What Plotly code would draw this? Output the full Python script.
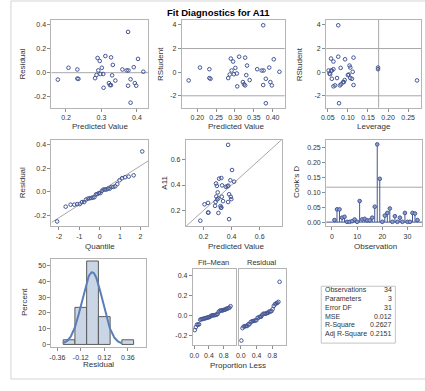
import numpy as np
import plotly.graph_objects as go
from statistics import NormalDist

# ---- regression output for A11 (one entry per observation, sorted by fit) ----
predicted = [0.177, 0.207, 0.232, 0.232, 0.235, 0.282, 0.286, 0.289, 0.291, 0.295,
             0.297, 0.301, 0.305, 0.306, 0.311, 0.321, 0.324, 0.327, 0.327, 0.330,
             0.332, 0.339, 0.359, 0.371, 0.375, 0.376, 0.375, 0.382, 0.382, 0.391,
             0.394, 0.398, 0.403, 0.418]
residual = [-0.058, 0.041, 0.027, -0.049, -0.052, -0.046, -0.019, 0.123, 0.019, 0.098,
            -0.011, 0.041, -0.011, -0.126, 0.139, -0.087, -0.104, -0.104, 0.128, -0.022,
            0.065, -0.066, 0.027, 0.019, 0.341, 0.019, -0.109, -0.055, -0.251, 0.046,
            -0.087, -0.109, 0.115, 0.008]
rstudent = [-0.70, 0.39, 0.25, -0.50, -0.56, -0.50, -0.20, 1.15, 0.14, 0.90,
            -0.17, 0.36, -0.11, -1.20, 1.31, -0.84, -1.03, -1.12, 1.23, -0.25,
            0.56, -0.67, 0.25, 0.14, 3.97, 0.14, -1.09, -0.56, -2.63, 0.39,
            -0.84, -1.12, 1.09, 0.03]
leverage = [0.272, 0.175, 0.175, 0.106, 0.110, 0.073, 0.102, 0.058, 0.060, 0.064,
            0.056, 0.082, 0.054, 0.064, 0.076, 0.088, 0.083, 0.068, 0.114, 0.100,
            0.104, 0.092, 0.064, 0.059, 0.076, 0.052, 0.114, 0.060, 0.078, 0.106,
            0.090, 0.080, 0.093, 0.112]

# Cook's D in observation order 1..34
cooks_d = [0.007, 0.043, 0.043, 0.015, 0.018, 0.001, 0.001, 0.003, 0.009, 0.001,
           0.071, 0.009, 0.011, 0.006, 0.006, 0.015, 0.052, 0.262, 0.146, 0.001,
           0.022, 0.031, 0.046, 0.001, 0.020, 0.001, 0.015, 0.001, 0.031, 0.001,
           0.001, 0.031, 0.029, 0.007]

stat_names = ["Observations", "Parameters", "Error DF", "MSE", "R-Square", "Adj R-Square"]
stat_values = ["34", "3", "31", "0.012", "0.2627", "0.2151"]
n_obs = 34
n_params = 3
mse = 0.012

# ---- derived quantities ----
pred = np.array(predicted)
res = np.array(residual)
observed = pred + res
nd = NormalDist()
sorted_res = np.sort(res)
quantiles = np.array([nd.inv_cdf((i + 1 - 0.375) / (n_obs + 0.25)) for i in range(n_obs)])
prop_less = (np.arange(n_obs) + 0.5) / n_obs
fit_mean = np.sort(pred - pred.mean())
obs_index = np.arange(1, n_obs + 1)

bin_edges = np.round(np.arange(-0.30, 0.43, 0.12), 2)
counts, _ = np.histogram(res, bins=bin_edges)
pct = counts / n_obs * 100
centers = (bin_edges[:-1] + bin_edges[1:]) / 2
keep = counts > 0
res_mean, res_sd = res.mean(), res.std(ddof=1)
curve_x = np.linspace(-0.30, 0.30, 121)
curve_y = 100 * 0.12 * np.exp(-0.5 * ((curve_x - res_mean) / res_sd) ** 2) / (res_sd * np.sqrt(2 * np.pi))

# ---- styling ----
W, H = 425, 391
FONT = "Liberation Sans, Arial, sans-serif"
MARK = "#445694"
FRAME = "#b4b4b4"
REF = "#a8a8a8"
TXT = "#333333"


def px(x):
    return x / W


def py(y):
    return 1 - y / H


def fmt(v, d):
    return f"{v:.{d}f}"


layout = dict(
    width=W, height=H, margin=dict(l=0, r=0, t=0, b=0),
    paper_bgcolor="white", plot_bgcolor="white", showlegend=False,
    font=dict(family=FONT, size=7, color=TXT), hovermode=False,
)

# panel id: (x px span, y px span, x range, y range, x ticks, x decimals, y ticks, y decimals, y labels)
panels = {
    1: ((47, 145), (20, 108), (0.159, 0.432), (-0.293, 0.441), [0.2, 0.3, 0.4], 1, [-0.2, 0.0, 0.2, 0.4], 1, True),
    2: ((179, 283), (20, 108), (0.159, 0.432), (-3.01, 4.42), [0.20, 0.25, 0.30, 0.35, 0.40], 2, [-2, 0, 2, 4], 0, True),
    3: ((325, 421), (20, 108), (0.046, 0.282), (-3.01, 4.42), [0.05, 0.10, 0.15, 0.20, 0.25], 2, [-2, 0, 2, 4], 0, True),
    4: ((47, 145), (140, 227), (-2.37, 2.39), (-0.293, 0.441), [-2, -1, 0, 1, 2], 0, [-0.2, 0.0, 0.2, 0.4], 1, True),
    5: ((183, 280), (140, 227), (0.074, 0.757), (0.074, 0.757), [0.2, 0.4, 0.6], 1, [0.2, 0.4, 0.6], 1, True),
    6: ((325, 422), (140, 227), (-2.3, 35.8), (-0.0145, 0.278), [0, 10, 20, 30], 0, [0, 0.05, 0.10, 0.15, 0.20, 0.25], 2, True),
    7: ((47, 143), (260, 348), (-0.42, 0.55), (-1.7, 54), [-0.36, -0.12, 0.12, 0.36], 2, [0, 10, 20, 30, 40, 50], 0, True),
    8: ((190, 234), (270, 346), (-0.04, 1.14), (-0.297, 0.467), [0.0, 0.4, 0.8], 1, [-0.2, 0.0, 0.2, 0.4], 1, True),
    9: ((237, 284), (270, 346), (-0.04, 1.14), (-0.297, 0.467), [0.0, 0.4, 0.8], 1, [-0.2, 0.0, 0.2, 0.4], 1, False),
}

for k, (xs, ys, xr, yr, xt, xd, yt, yd, ylab) in panels.items():
    sfx = "" if k == 1 else str(k)
    common = dict(showline=True, mirror=True, linecolor=FRAME, linewidth=1,
                  showgrid=False, zeroline=False, ticks="outside", ticklen=3,
                  tickcolor="#8c8c8c", tickwidth=1, tickfont=dict(size=7, color=TXT),
                  fixedrange=True)
    layout["xaxis" + sfx] = dict(common, domain=[px(xs[0]), px(xs[1])], range=list(xr),
                                 anchor="y" + sfx, tickvals=xt,
                                 ticktext=[fmt(v, xd) for v in xt])
    layout["yaxis" + sfx] = dict(common, domain=[py(ys[1]), py(ys[0])], range=list(yr),
                                 anchor="x" + sfx, tickvals=yt,
                                 ticktext=[fmt(v, yd) for v in yt] if ylab else [""] * len(yt),
                                 ticks="outside" if ylab else "")

fig = go.Figure()


def ax(k):
    sfx = "" if k == 1 else str(k)
    return dict(xaxis="x" + sfx, yaxis="y" + sfx)


open_mark = dict(symbol="circle-open", size=3.6, color=MARK, line=dict(width=1, color=MARK))

# Residual vs predicted
fig.add_trace(go.Scatter(x=pred, y=res, mode="markers", marker=open_mark, **ax(1)))
# RStudent vs predicted
fig.add_trace(go.Scatter(x=pred, y=rstudent, mode="markers", marker=open_mark, **ax(2)))
# RStudent vs leverage
fig.add_trace(go.Scatter(x=leverage, y=rstudent, mode="markers", marker=open_mark, **ax(3)))
# Normal quantile plot with reference line
qx = np.array(panels[4][2])
fig.add_trace(go.Scatter(x=qx, y=np.sqrt(mse) * qx, mode="lines",
                         line=dict(color=REF, width=1), **ax(4)))
fig.add_trace(go.Scatter(x=quantiles, y=sorted_res, mode="markers", marker=open_mark, **ax(4)))
# Observed vs predicted with identity line
dx = np.array(panels[5][2])
fig.add_trace(go.Scatter(x=dx, y=dx, mode="lines", line=dict(color=REF, width=1), **ax(5)))
fig.add_trace(go.Scatter(x=pred, y=observed, mode="markers", marker=open_mark, **ax(5)))
# Cook's D needles
sx, sy = [], []
for i, d in zip(obs_index, cooks_d):
    sx += [i, i, None]
    sy += [0, d, None]
fig.add_trace(go.Scatter(x=panels[6][2], y=[0, 0], mode="lines",
                         line=dict(color=MARK, width=1), **ax(6)))
fig.add_trace(go.Scatter(x=sx, y=sy, mode="lines", line=dict(color=MARK, width=1), **ax(6)))
fig.add_trace(go.Scatter(x=obs_index, y=cooks_d, mode="markers",
                         marker=dict(symbol="circle", size=3.6, color="#8d9fcf",
                                     line=dict(width=1, color=MARK)), **ax(6)))
# Residual histogram with normal density
fig.add_trace(go.Bar(x=centers[keep], y=pct[keep], width=0.12,
                     marker=dict(color="#cad5e5", line=dict(color="#5a5a5a", width=1)), **ax(7)))
fig.add_trace(go.Scatter(x=curve_x, y=curve_y, mode="lines",
                         line=dict(color="#5b7db8", width=2), **ax(7)))
# Residual-fit spread
fig.add_trace(go.Scatter(x=prop_less, y=fit_mean, mode="markers", marker=open_mark, **ax(8)))
fig.add_trace(go.Scatter(x=prop_less, y=sorted_res, mode="markers", marker=open_mark, **ax(9)))

shapes = []


def hline(k, y):
    sfx = "" if k == 1 else str(k)
    shapes.append(dict(type="line", xref=f"x{sfx} domain", yref="y" + sfx, x0=0, x1=1,
                       y0=y, y1=y, line=dict(color=REF, width=1), layer="below"))


def vline(k, x):
    sfx = "" if k == 1 else str(k)
    shapes.append(dict(type="line", xref="x" + sfx, yref=f"y{sfx} domain", x0=x, x1=x,
                       y0=0, y1=1, line=dict(color=REF, width=1), layer="below"))


hline(1, 0)
hline(2, 2); hline(2, -2)
hline(3, 2); hline(3, -2)
vline(3, 2 * n_params / n_obs)
hline(6, 4 / n_obs)

# fit statistics box
shapes.append(dict(type="rect", xref="paper", yref="paper", x0=px(320), x1=px(395),
                   y0=py(344), y1=py(287), line=dict(color="#c4c4c4", width=1)))
# outer frame
shapes.append(dict(type="rect", xref="paper", yref="paper", x0=px(6), x1=px(430),
                   y0=py(380), y1=py(1), line=dict(color="#d4d4d4", width=1)))

ann = []


def text(x, y, s, size=8, angle=0, xanchor="center", color=TXT, bold=False):
    ann.append(dict(x=px(x), y=py(y), xref="paper", yref="paper", text=f"<b>{s}</b>" if bold else s,
                    showarrow=False, textangle=angle, xanchor=xanchor, yanchor="middle",
                    font=dict(size=size, color=color, family=FONT)))


text(216, 12.5, "Fit Diagnostics for A11", size=9.5, color="#000000", bold=True)
for x, y, s in [(96, 127, "Predicted Value"), (234, 127, "Predicted Value"), (373, 127, "Leverage"),
                (96, 247, "Quantile"), (234, 247, "Predicted Value"), (375, 247, "Observation"),
                (95, 365, "Residual"), (236, 366, "Proportion Less")]:
    text(x, y, s)
for x, y, s in [(18, 64, "Residual"), (158, 64, "RStudent"), (298, 64, "RStudent"),
                (18, 183, "Residual"), (161, 183, "A11"), (295, 183, "Cook's D"),
                (19, 303, "Percent")]:
    text(x, y, s, angle=-90)
text(211, 263, "Fit\u2013Mean", size=7.5)
text(260, 263, "Residual", size=7.5)
for i, (nm, val) in enumerate(zip(stat_names, stat_values)):
    y = 290.5 + 8.8 * i
    text(322, y, nm, size=7, xanchor="left")
    text(393.5, y, val, size=7, xanchor="right")

layout["shapes"] = shapes
layout["annotations"] = ann
fig.update_layout(**layout)
fig.write_html("out.html", config={"displayModeBar": False, "staticPlot": True})
